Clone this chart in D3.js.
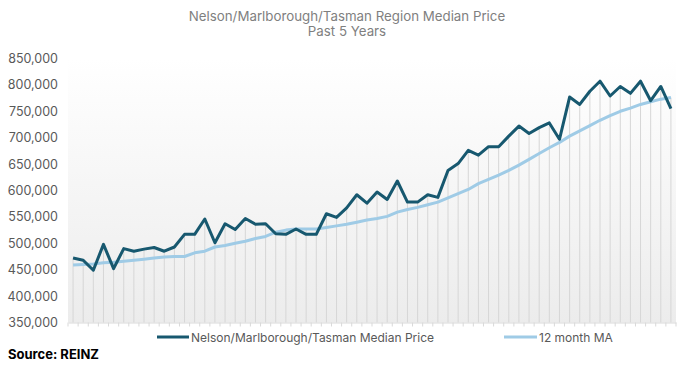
<!DOCTYPE html>
<html>
<head>
<meta charset="utf-8">
<script src="https://cdn.jsdelivr.net/npm/d3@7"></script>
<style>
  html, body { margin: 0; padding: 0; background: #ffffff; }
  svg { display: block; }
  text { font-family: Inter, "Noto Sans", sans-serif; }
</style>
</head>
<body>
<svg id="chart" width="691" height="367"></svg>
<script>
// ---- data ----
const titleLines = ["Nelson/Marlborough/Tasman Region Median Price", "Past 5 Years"];
const seriesNames = ["Nelson/Marlborough/Tasman Median Price", "12 month MA"];
const medianPrice = [
  472000, 468000, 449000, 498000, 452000, 490000, 485000, 489000, 492000, 485000,
  493000, 517000, 517000, 546000, 501000, 537000, 526000, 547000, 536000, 537000,
  518000, 517000, 527000, 517000, 517000, 556000, 549000, 567000, 592000, 576000,
  597000, 583000, 618000, 578000, 578000, 592000, 587000, 638000, 651000, 676000,
  667000, 683000, 683000, 703000, 722000, 708000, 719000, 728000, 697000, 777000,
  763000, 788000, 807000, 779000, 797000, 784000, 807000, 770000, 797000, 755000
];
const movingAvg = [
  459000, 460000, 461000, 463000, 464000, 466000, 468000, 470000, 472000, 474000,
  475000, 475000, 482000, 485000, 493000, 496000, 500000, 504000, 509000, 513000,
  521000, 525000, 527000, 527000, 527000, 530000, 533000, 536000, 540000, 544000,
  547000, 551000, 559000, 564000, 568000, 573000, 578000, 586000, 594000, 602000,
  613000, 621000, 629000, 638000, 648000, 659000, 670000, 681000, 691000, 703000,
  713000, 723000, 733000, 742000, 750000, 756000, 763000, 768000, 773000, 776000
];
const categories = medianPrice.map((_, i) => "M" + (i + 1));
const yTicks = [350000, 400000, 450000, 500000, 550000, 600000, 650000, 700000, 750000, 800000, 850000];

// ---- layout ----
const svg = d3.select("#chart");
const pLeft = 68, pRight = 676, pTop = 58.5, pBottom = 322.5;
const darkColor = "#17586f", lightColor = "#9fcbe6";

const x = d3.scaleBand().domain(categories).range([pLeft, pRight]).padding(0);
const y = d3.scaleLinear().domain([350000, 850000]).range([pBottom, pTop]);
const cx = c => x(c) + x.bandwidth() / 2;

// gradient background
const defs = svg.append("defs");
const grad = defs.append("linearGradient").attr("id", "bg").attr("x1", 0).attr("y1", 0).attr("x2", 0).attr("y2", 1);
grad.append("stop").attr("offset", "0%").attr("stop-color", "#ffffff");
grad.append("stop").attr("offset", "100%").attr("stop-color", "#ececec");
svg.append("rect").attr("x", pLeft).attr("y", pTop).attr("width", pRight - pLeft).attr("height", pBottom - pTop).attr("fill", "url(#bg)");

// drop lines
svg.append("g").selectAll("line").data(categories).join("line")
  .attr("x1", c => cx(c)).attr("x2", c => cx(c))
  .attr("y1", (c, i) => y(Math.max(medianPrice[i], movingAvg[i])))
  .attr("y2", pBottom)
  .attr("stroke", "#d6d6d6").attr("stroke-width", 1);

// x axis
const xAxis = svg.append("g").attr("transform", `translate(0,${pBottom})`)
  .call(d3.axisBottom(x).tickSize(0).tickFormat(""));
xAxis.select(".domain").attr("stroke", "#d9d9d9");
svg.append("g").selectAll("line").data(d3.range(categories.length + 1)).join("line")
  .attr("x1", i => pLeft + i * x.bandwidth()).attr("x2", i => pLeft + i * x.bandwidth())
  .attr("y1", pBottom).attr("y2", pBottom + 4)
  .attr("stroke", "#d9d9d9").attr("stroke-width", 1);

// y axis
const yAxis = svg.append("g").attr("transform", `translate(58,0)`)
  .call(d3.axisLeft(y).tickValues(yTicks).tickSize(0).tickPadding(0).tickFormat(d3.format(",")));
yAxis.select(".domain").remove();
yAxis.selectAll("text").attr("fill", "#595959").style("font-size", "12.5px").style("font-family", "Inter, sans-serif");

// lines
const lineGen = arr => d3.line().x((d, i) => cx(categories[i])).y(d => y(d))(arr);
svg.append("path").attr("d", lineGen(movingAvg)).attr("fill", "none").attr("stroke", lightColor).attr("stroke-width", 3).attr("stroke-linejoin", "round");
svg.append("path").attr("d", lineGen(medianPrice)).attr("fill", "none").attr("stroke", darkColor).attr("stroke-width", 3).attr("stroke-linejoin", "round");

// title
svg.append("g").selectAll("text").data(titleLines).join("text")
  .attr("x", 347).attr("y", (d, i) => 21 + i * 15)
  .attr("text-anchor", "middle").attr("fill", "#7f7f7f").style("font-size", "13.3px")
  .text(d => d);

// legend
const legendItems = [
  { name: seriesNames[0], color: darkColor, x0: 157, x1: 189 },
  { name: seriesNames[1], color: lightColor, x0: 504, x1: 537 }
];
const lg = svg.append("g");
legendItems.forEach(it => {
  lg.append("line").attr("x1", it.x0).attr("x2", it.x1).attr("y1", 337).attr("y2", 337).attr("stroke", it.color).attr("stroke-width", 3);
  lg.append("text").attr("x", it.x1 + 2).attr("y", 341.5).attr("fill", "#595959").style("font-size", "12px").text(it.name);
});

// source
svg.append("text").attr("x", 8).attr("y", 359).attr("fill", "#000").style("font-size", "13px").style("font-weight", "bold").text("Source: REINZ");
</script>
</body>
</html>
